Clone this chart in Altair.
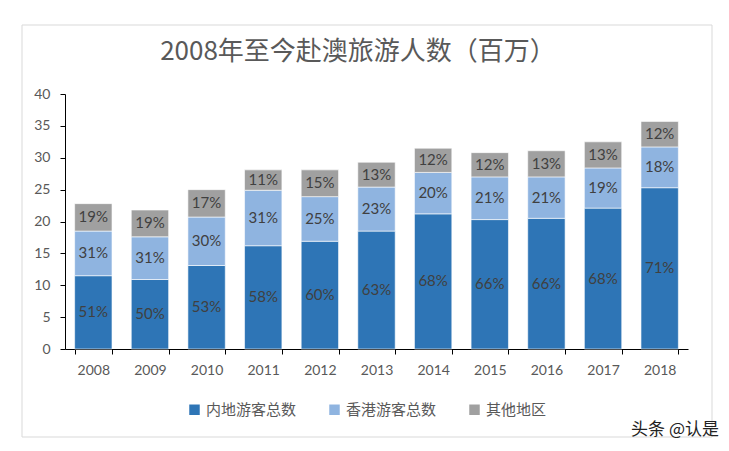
import altair as alt
import pandas as pd

years = ["2008", "2009", "2010", "2011", "2012", "2013", "2014", "2015", "2016", "2017", "2018"]
series_names = ["内地游客总数", "香港游客总数", "其他地区"]
mainland = [11.5, 10.9, 13.1, 16.2, 16.9, 18.5, 21.2, 20.3, 20.5, 22.1, 25.3]
hongkong = [7.0, 6.7, 7.6, 8.7, 7.0, 6.9, 6.5, 6.7, 6.5, 6.3, 6.4]
other = [4.3, 4.2, 4.3, 3.2, 4.2, 3.9, 3.8, 3.8, 4.1, 4.1, 4.0]
mainland_pct = ["51%", "50%", "53%", "58%", "60%", "63%", "68%", "66%", "66%", "68%", "71%"]
hongkong_pct = ["31%", "31%", "30%", "31%", "25%", "23%", "20%", "21%", "21%", "19%", "18%"]
other_pct = ["19%", "19%", "17%", "11%", "15%", "13%", "12%", "12%", "13%", "13%", "12%"]
y_ticks = [0, 5, 10, 15, 20, 25, 30, 35, 40]
colors = ["#2E75B6", "#8FB4E0", "#A0A0A0"]
title_text = "2008年至今赴澳旅游人数（百万）"
watermark_text = "头条 @认是"

rows = []
for i, y in enumerate(years):
    for k, (vals, pcts) in enumerate([(mainland, mainland_pct), (hongkong, hongkong_pct), (other, other_pct)]):
        rows.append({"year": y, "series": series_names[k], "order": k, "value": vals[i], "label": pcts[i]})
df = pd.DataFrame(rows)

NUM_FONT = "Lato"
CJK_FONT = "Noto Sans CJK SC"

base = alt.Chart(df).transform_stack(
    stack="value", groupby=["year"], as_=["y0", "y1"], sort=[alt.SortField("order", "ascending")]
).transform_calculate(mid="(datum.y0 + datum.y1) / 2")

x_axis = alt.Axis(labelAngle=0, tickBand="extent", labelFont=NUM_FONT, labelFontSize=14,
                  labelColor="#595959", labelPadding=9, tickSize=5, domainColor="#000000",
                  tickColor="#000000")
x_scale = alt.Scale(paddingInner=0.34, paddingOuter=0.17)

y_axis = alt.Axis(values=y_ticks, grid=False, labelFont=NUM_FONT,
                  labelFontSize=14, labelColor="#595959", labelPadding=10, tickSize=5,
                  labelOverlap=False, domainColor="#000000", tickColor="#000000")
y_scale = alt.Scale(domain=[0, 40])

bars = base.mark_bar(stroke="#FFFFFF", strokeWidth=0.6).encode(
    x=alt.X("year:N", sort=years, title=None, scale=x_scale, axis=x_axis),
    y=alt.Y("y0:Q", title=None, scale=y_scale, axis=y_axis),
    y2="y1:Q",
    color=alt.Color("series:N", sort=series_names,
                    scale=alt.Scale(domain=series_names, range=colors),
                    legend=alt.Legend(title=None, orient="none", direction="horizontal",
                                      legendX=122, legendY=308, symbolType="square", symbolSize=110,
                                      symbolStrokeWidth=0, labelFont=CJK_FONT, labelFontSize=15,
                                      labelColor="#595959", columnPadding=30, labelOffset=4)),
)

texts = base.mark_text(font=NUM_FONT, fontSize=15, color="#404040").encode(
    x=alt.X("year:N", sort=years, title=None, scale=x_scale, axis=x_axis),
    y=alt.Y("mid:Q", title=None, scale=y_scale, axis=y_axis),
    text="label:N",
)

border = alt.Chart(pd.DataFrame({"a": [0]})).mark_rect(
    fill=None, stroke="#D9D9D9", strokeWidth=1, clip=False
).encode(x=alt.value(-43), x2=alt.value(647), y=alt.value(-69), y2=alt.value(343))

title = alt.Chart(pd.DataFrame({"t": [title_text]})).mark_text(
    font=CJK_FONT, fontSize=26, color="#595959", align="center", baseline="middle", clip=False
).encode(x=alt.value(293), y=alt.value(-42), text="t:N")

watermark = alt.Chart(pd.DataFrame({"t": [watermark_text]})).mark_text(
    font=CJK_FONT, fontSize=17, color="#222222", align="right", baseline="middle", clip=False
).encode(x=alt.value(654), y=alt.value(336), text="t:N")

chart = alt.layer(border, bars, texts, title, watermark).properties(
    width=623, height=255,
    padding={"left": 57, "top": 86, "right": 33, "bottom": 94},
    autosize=alt.AutoSizeParams(type="none"),
).configure_view(stroke=None)

chart.save("out.html", embed_options={"renderer": "svg", "actions": False})
